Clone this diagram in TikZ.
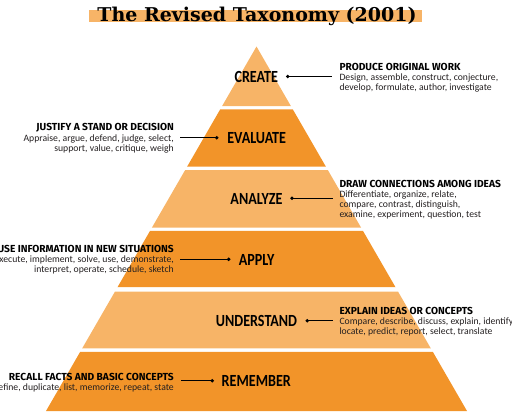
\documentclass[tikz,border=0pt]{standalone}
\usepackage{fontspec}
\setmainfont{Carlito}
\newfontfamily\lvlfont[FakeStretch=0.83]{Carlito}
\newfontfamily\headfont{Fira Sans}
\newfontfamily\titlefont{DejaVu Serif}
\definecolor{darkor}{RGB}{242,148,41}
\definecolor{lightor}{RGB}{247,180,103}
\definecolor{bodyink}{RGB}{35,31,32}
\newsavebox\measbox
\newcommand\pband[3]{%
  \fill[#3] ({256.5-(#1-46.5)*0.5775},#1) -- ({256.5+(#1-46.5)*0.5775},#1)
    -- ({256.5+(#2-46.5)*0.5775},#2) -- ({256.5-(#2-46.5)*0.5775},#2) -- cycle;}
\begin{document}
\sbox\measbox{\headfont\bfseries\fontsize{10}{10}\selectfont PRODUCE ORIGINAL WORKJUSTIFY A STAND OR DECISIONDRAW CONNECTIONS AMONG IDEASEXPLAIN IDEAS OR CONCEPTSRECALL FACTS AND BASIC CONCEPTS}%
\pgfmathsetmacro\hdsz{10*718/\wd\measbox}%
\sbox\measbox{\fontsize{10}{10}\selectfont Design, assemble, construct, conjecture,develop, formulate, author, investigateAppraise, argue, defend, judge, select,support, value, critique, weighDifferentiate, organize, relate,compare, contrast, distinguish,examine, experiment, question, testinterpret, operate, schedule, sketchlocate, predict, report, select, translate}%
\pgfmathsetmacro\bdsz{10*1253/\wd\measbox}%
\begin{tikzpicture}[x=1pt,y=-1pt,
  lvl/.style={font=\lvlfont\bfseries\fontsize{17}{17}\selectfont, inner sep=0},
  rdesc/.style={anchor=north west, align=left, inner sep=0, text=bodyink, font=\fontsize{\bdsz}{10}\selectfont},
  ldesc/.style={anchor=north east, align=right, inner sep=0, text=bodyink, font=\fontsize{\bdsz}{10}\selectfont},
  conn/.style={draw=black, line width=0.9pt}]
\useasboundingbox (0,0) rectangle (512,416);
\clip (0,0) rectangle (512,416);
% title
\fill[lightor] (89,10) rectangle (422,21.5);
\node[anchor=base, inner sep=0, font=\titlefont\bfseries\fontsize{19}{19}\selectfont] (title) at (257,21) {The Revised Taxonomy (2001)};
% pyramid bands
\pband{46.5}{106}{lightor}
\pband{109.3}{166.5}{darkor}
\pband{170}{227.5}{lightor}
\pband{230.8}{287.2}{darkor}
\pband{291.5}{348.3}{lightor}
\pband{351.8}{411}{darkor}
% level labels
\node[lvl] (create) at (256.3,76.5) {CREATE};
\node[lvl] (evaluate) at (256.7,137.7) {EVALUATE};
\node[lvl] (analyze) at (256.5,198.5) {ANALYZE};
\node[lvl] (apply) at (256.7,259.5) {APPLY};
\node[lvl] (understand) at (256.5,320.7) {UNDERSTAND};
\node[lvl] (remember) at (256.3,380.7) {REMEMBER};
% description blocks
\newcommand\hd[1]{{\headfont\bfseries\fontsize{\hdsz}{10}\selectfont\color{black}#1}}
\node[rdesc] (dcreate) at (339.3,62.7) {\hd{PRODUCE ORIGINAL WORK}\\[0.5pt]Design, assemble, construct, conjecture,\\develop, formulate, author, investigate};
\node[ldesc] (devaluate) at (174,123.3) {\hd{JUSTIFY A STAND OR DECISION}\\[0.5pt]Appraise, argue, defend, judge, select,\\support, value, critique, weigh};
\node[rdesc] (danalyze) at (339.3,180) {\hd{DRAW CONNECTIONS AMONG IDEAS}\\[0.5pt]Differentiate, organize, relate,\\compare, contrast, distinguish,\\examine, experiment, question, test};
\node[ldesc] (dapply) at (174,245) {\hd{USE INFORMATION IN NEW SITUATIONS}\\[0.5pt]Execute, implement, solve, use, demonstrate,\\interpret, operate, schedule, sketch};
\node[rdesc] (dunderstand) at (339.3,306.7) {\hd{EXPLAIN IDEAS OR CONCEPTS}\\[0.5pt]Compare, describe, discuss, explain, identify,\\locate, predict, report, select, translate};
\node[ldesc] (dremember) at (174,372.7) {\hd{RECALL FACTS AND BASIC CONCEPTS}\\[0.5pt]Define, duplicate, list, memorize, repeat, state};
% connectors
\coordinate (pcreate) at (287.7,76.5);
\coordinate (ecreate) at (331.7,76.5);
\coordinate (pevaluate) at (216.7,137.7);
\coordinate (eevaluate) at (180,137.7);
\coordinate (panalyze) at (292,198.3);
\coordinate (eanalyze) at (332.7,198.3);
\coordinate (papply) at (228.7,259.3);
\coordinate (eapply) at (180,259.3);
\coordinate (punderstand) at (307.3,320.7);
\coordinate (eunderstand) at (333.3,320.7);
\coordinate (premember) at (212.3,380.7);
\coordinate (eremember) at (181,380.7);
\foreach \n in {create,evaluate,analyze,apply,understand,remember}{
  \draw[conn] (p\n) -- (e\n);
  \fill (p\n) circle (1.9);
}
\end{tikzpicture}
\end{document}
